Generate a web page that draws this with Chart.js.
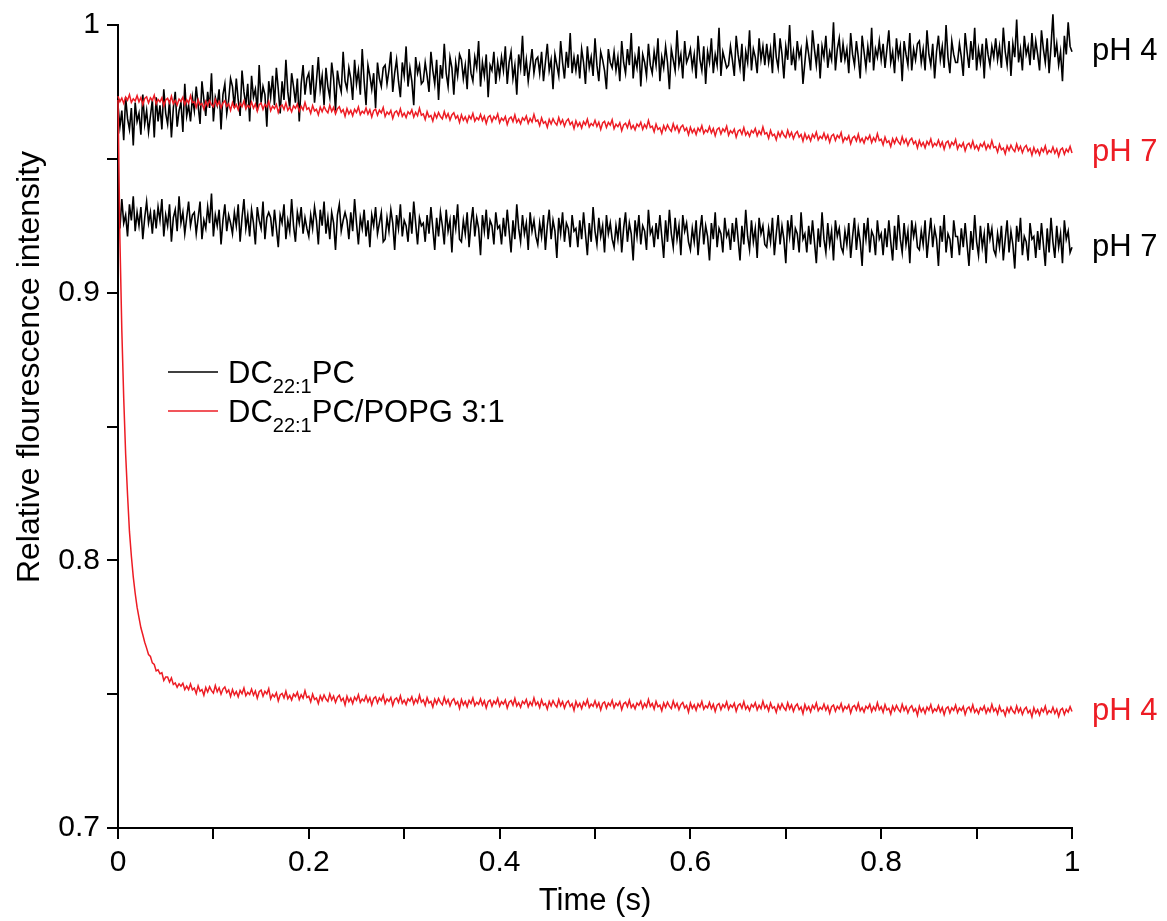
<!DOCTYPE html>
<html><head><meta charset="utf-8">
<script src="https://cdn.jsdelivr.net/npm/chart.js@4.4.1/dist/chart.umd.min.js"></script>
<style>html,body{margin:0;padding:0;background:#fff;}canvas{display:block;}</style>
</head><body>
<canvas id="c" width="1167" height="921"></canvas>
<script>
// ---- data ----
const SAMPLE_INTERVAL = 0.002; // s between plotted samples
const xTickValues = [0, 0.2, 0.4, 0.6, 0.8, 1];
const xTickLabels = ['0', '0.2', '0.4', '0.6', '0.8', '1'];
const yTickValues = [0.7, 0.8, 0.9, 1];
const yTickLabels = ['0.7', '0.8', '0.9', '1'];
const xTitle = 'Time (s)';
const yTitle = 'Relative flourescence intensity';
const legendNames = [
  [['DC', false], ['22:1', true], ['PC', false]],
  [['DC', false], ['22:1', true], ['PC/POPG 3:1', false]]
];
const endLabels = ['pH 4', 'pH 7', 'pH 7', 'pH 4'];

// DC22:1PC, pH 4 (black, top)
const b4 = [
.970,.962,.968,.957,.973,.965,.961,.969,.955,.971,.964,.967,.959,.974,.963,.968,.960,.966,.972,.958,
.973,.964,.970,.961,.976,.967,.963,.972,.958,.969,.975,.962,.968,.971,.960,.978,.966,.970,.964,.973,
.968,.977,.970,.963,.979,.972,.966,.975,.969,.982,.964,.973,.970,.976,.961,.974,.978,.967,.972,.980,
.977,.969,.980,.972,.966,.983,.975,.970,.978,.964,.981,.973,.976,.968,.985,.971,.977,.974,.962,.979,
.973,.981,.970,.984,.976,.967,.979,.972,.987,.975,.969,.982,.977,.971,.980,.964,.978,.985,.974,.980,
.982,.974,.985,.971,.979,.988,.976,.981,.970,.984,.977,.973,.986,.980,.968,.983,.978,.975,.990,.979,
.976,.984,.980,.972,.987,.978,.983,.974,.991,.979,.970,.985,.981,.976,.982,.969,.986,.980,.977,.984,
.985,.978,.983,.990,.975,.982,.987,.979,.973,.986,.981,.992,.977,.984,.979,.970,.988,.982,.985,.978,
.979,.986,.981,.975,.990,.983,.978,.987,.972,.985,.980,.993,.982,.977,.988,.984,.974,.986,.981,.989,
.987,.980,.985,.976,.991,.982,.979,.988,.984,.994,.977,.986,.981,.989,.973,.985,.983,.990,.978,.986,
.981,.988,.983,.992,.978,.986,.990,.980,.985,.974,.989,.984,.996,.981,.987,.979,.985,.991,.982,.987,
.988,.982,.990,.979,.986,.993,.983,.987,.976,.989,.985,.981,.994,.986,.980,.990,.984,.997,.982,.988,
.983,.989,.980,.991,.986,.978,.992,.984,.988,.981,.995,.985,.979,.990,.987,.983,.976,.991,.986,.984,
.990,.983,.988,.979,.994,.986,.982,.991,.985,.997,.980,.988,.984,.992,.977,.989,.986,.981,.993,.985,
.982,.990,.985,.995,.979,.988,.984,.992,.986,.976,.991,.987,.983,.998,.985,.989,.980,.994,.986,.988,
.991,.984,.989,.980,.996,.987,.983,.992,.978,.990,.986,.995,.982,.989,.985,.999,.981,.990,.987,.984,
.985,.992,.987,.981,.996,.989,.984,.993,.979,.990,.986,.998,.983,.991,.988,.982,.995,.987,.992,.985,
.993,.986,.991,.982,.997,.988,.984,.995,.989,.980,.992,.987,1.000,.985,.990,.983,.994,.988,.991,.978,
.986,.994,.989,.983,.998,.991,.985,.993,.980,.992,.988,.996,.984,.990,.987,1.001,.983,.991,.995,.986,
.993,.987,.991,.982,.997,.989,.985,.994,.988,.980,.996,.990,.984,.992,.986,.999,.983,.991,.988,.994,
.987,.993,.984,.991,.998,.986,.990,.982,.995,.988,.992,.979,.994,.989,.985,.997,.983,.991,.987,.993,
.994,.986,.991,.983,.998,.989,.985,.993,.980,.990,.996,.987,.992,.984,1.000,.988,.982,.994,.989,.986,
.986,.993,.988,.981,.997,.990,.984,.994,.987,.999,.983,.991,.986,.993,.980,.995,.989,.985,.992,.988,
.995,.987,.992,.984,.999,.990,.985,.994,.981,.993,.988,1.002,.986,.991,.983,.996,.989,.992,.985,.997,
.987,.994,.989,.983,.998,.991,.986,.995,.982,.992,1.004,.988,.993,.985,.990,.979,.996,.989,1.001,.992,
.990];

// DC22:1PC/POPG 3:1, pH 7 (red, upper)
const r7 = [
.9734,.9714,.9727,.9707,.9731,.9719,.9740,.9711,.9724,.9716,.9736,.9713,.9729,.9702,.9726,.9732,.9709,.9728,.9718,.9738,
.9705,.9722,.9713,.9728,.9698,.9720,.9726,.9709,.9734,.9706,.9718,.9701,.9723,.9714,.9730,.9703,.9721,.9708,.9736,.9710,
.9713,.9692,.9721,.9701,.9707,.9686,.9715,.9698,.9718,.9703,.9694,.9722,.9699,.9714,.9690,.9709,.9717,.9696,.9706,.9681,
.9710,.9690,.9703,.9683,.9707,.9695,.9716,.9687,.9700,.9692,.9712,.9689,.9705,.9678,.9702,.9708,.9685,.9704,.9694,.9714,
.9680,.9697,.9688,.9703,.9673,.9695,.9701,.9684,.9709,.9681,.9693,.9676,.9698,.9689,.9705,.9678,.9696,.9683,.9711,.9685,
.9691,.9670,.9699,.9679,.9685,.9664,.9693,.9676,.9696,.9681,.9672,.9700,.9677,.9692,.9668,.9687,.9695,.9674,.9684,.9659,
.9688,.9668,.9681,.9661,.9685,.9673,.9694,.9665,.9678,.9670,.9690,.9667,.9683,.9656,.9680,.9686,.9663,.9682,.9672,.9692,
.9658,.9675,.9666,.9681,.9651,.9673,.9679,.9662,.9687,.9659,.9671,.9654,.9676,.9667,.9683,.9656,.9674,.9661,.9689,.9663,
.9668,.9647,.9676,.9656,.9662,.9641,.9670,.9653,.9673,.9658,.9649,.9677,.9654,.9669,.9645,.9664,.9672,.9651,.9661,.9636,
.9664,.9644,.9657,.9637,.9661,.9649,.9670,.9641,.9654,.9646,.9666,.9643,.9659,.9632,.9656,.9662,.9639,.9658,.9648,.9668,
.9635,.9652,.9643,.9658,.9628,.9650,.9656,.9639,.9664,.9636,.9648,.9631,.9653,.9644,.9660,.9633,.9651,.9638,.9666,.9640,
.9645,.9624,.9653,.9633,.9639,.9618,.9647,.9630,.9650,.9635,.9626,.9654,.9631,.9646,.9622,.9641,.9649,.9628,.9638,.9613,
.9642,.9622,.9635,.9615,.9639,.9627,.9648,.9619,.9632,.9624,.9644,.9621,.9637,.9610,.9634,.9640,.9617,.9636,.9626,.9646,
.9612,.9629,.9620,.9635,.9605,.9627,.9633,.9616,.9641,.9613,.9625,.9608,.9630,.9621,.9637,.9610,.9628,.9615,.9643,.9617,
.9622,.9601,.9630,.9610,.9616,.9595,.9624,.9607,.9627,.9612,.9603,.9631,.9608,.9623,.9599,.9618,.9626,.9605,.9615,.9590,
.9618,.9598,.9611,.9591,.9615,.9603,.9624,.9595,.9608,.9600,.9620,.9597,.9613,.9586,.9610,.9616,.9593,.9612,.9602,.9622,
.9588,.9605,.9596,.9611,.9581,.9603,.9609,.9592,.9617,.9589,.9601,.9584,.9606,.9597,.9613,.9586,.9604,.9591,.9619,.9593,
.9598,.9577,.9606,.9586,.9592,.9571,.9600,.9583,.9603,.9588,.9579,.9607,.9584,.9599,.9575,.9594,.9602,.9581,.9591,.9566,
.9594,.9574,.9587,.9567,.9591,.9579,.9600,.9571,.9584,.9576,.9596,.9573,.9589,.9562,.9586,.9592,.9569,.9588,.9578,.9598,
.9563,.9580,.9571,.9586,.9556,.9578,.9584,.9567,.9592,.9564,.9576,.9559,.9581,.9572,.9588,.9561,.9579,.9566,.9594,.9568,
.9573,.9552,.9581,.9561,.9567,.9546,.9575,.9558,.9578,.9563,.9554,.9582,.9559,.9574,.9550,.9569,.9577,.9556,.9566,.9541,
.9568,.9548,.9561,.9541,.9565,.9553,.9574,.9545,.9558,.9550,.9570,.9547,.9563,.9536,.9560,.9566,.9543,.9562,.9552,.9572,
.9537,.9554,.9545,.9560,.9530,.9552,.9558,.9541,.9566,.9538,.9550,.9533,.9555,.9546,.9562,.9535,.9553,.9540,.9568,.9542,
.9546,.9525,.9554,.9534,.9540,.9519,.9548,.9531,.9551,.9536,.9527,.9555,.9532,.9547,.9523,.9542,.9550,.9529,.9539,.9514,
.9542,.9522,.9535,.9515,.9539,.9527,.9548,.9519,.9532,.9524,.9544,.9521,.9537,.9510,.9534,.9540,.9517,.9536,.9526,.9546,
.9522];

// DC22:1PC, pH 7 (black, middle)
const b7 = [
.931,.924,.935,.926,.929,.921,.933,.927,.936,.923,.930,.925,.932,.920,.928,.934,.926,.930,.922,.931,
.924,.932,.927,.935,.921,.929,.925,.933,.919,.928,.931,.923,.936,.926,.930,.922,.928,.934,.925,.929,
.930,.922,.928,.934,.920,.927,.924,.932,.926,.937,.921,.929,.925,.931,.918,.927,.933,.923,.929,.926,
.922,.930,.925,.933,.919,.928,.935,.924,.929,.921,.931,.926,.918,.932,.927,.924,.934,.920,.928,.930,
.928,.921,.931,.924,.917,.929,.926,.933,.920,.927,.923,.935,.925,.919,.930,.926,.932,.922,.928,.924,
.921,.929,.924,.932,.927,.918,.931,.925,.934,.922,.928,.920,.930,.926,.916,.929,.933,.923,.927,.930,
.927,.920,.930,.923,.935,.926,.918,.928,.924,.931,.921,.927,.917,.929,.925,.932,.922,.926,.930,.919,
.920,.928,.923,.931,.926,.916,.929,.924,.933,.921,.927,.925,.919,.930,.922,.934,.926,.918,.928,.925,
.926,.919,.929,.922,.932,.924,.916,.928,.921,.930,.925,.918,.931,.923,.927,.915,.929,.924,.933,.920,
.919,.927,.922,.930,.917,.926,.932,.921,.928,.924,.914,.929,.923,.931,.920,.927,.925,.918,.930,.924,
.925,.918,.928,.921,.931,.923,.915,.927,.920,.933,.924,.919,.929,.922,.926,.916,.930,.923,.927,.921,
.918,.926,.921,.929,.916,.925,.931,.920,.927,.923,.913,.928,.922,.930,.919,.926,.924,.917,.929,.923,
.924,.917,.927,.920,.930,.922,.914,.926,.919,.932,.923,.918,.928,.921,.925,.915,.929,.922,.926,.920,
.917,.925,.920,.928,.915,.924,.930,.919,.926,.922,.912,.927,.921,.929,.918,.925,.923,.916,.931,.922,
.924,.917,.926,.920,.929,.921,.913,.927,.919,.931,.922,.917,.928,.920,.925,.914,.929,.923,.926,.919,
.916,.924,.919,.927,.914,.923,.929,.918,.925,.921,.912,.926,.920,.930,.917,.924,.922,.915,.928,.921,
.923,.916,.926,.919,.928,.920,.912,.925,.918,.931,.921,.916,.927,.919,.924,.913,.928,.922,.925,.918,
.917,.924,.919,.928,.914,.922,.929,.918,.925,.920,.911,.927,.921,.929,.916,.924,.922,.915,.930,.920,
.922,.915,.925,.918,.927,.919,.911,.924,.917,.930,.920,.915,.926,.918,.923,.912,.927,.921,.924,.917,
.915,.923,.918,.926,.913,.921,.928,.916,.924,.919,.910,.926,.920,.928,.915,.923,.921,.914,.927,.920,
.922,.914,.924,.917,.927,.919,.912,.925,.916,.929,.920,.915,.926,.918,.923,.911,.927,.921,.925,.917,
.916,.923,.918,.927,.913,.921,.928,.917,.924,.920,.910,.925,.919,.929,.915,.922,.920,.913,.927,.921,
.921,.914,.924,.917,.926,.918,.910,.923,.916,.929,.919,.914,.925,.917,.922,.911,.926,.920,.924,.916,
.914,.922,.917,.925,.912,.920,.927,.915,.923,.918,.909,.925,.919,.928,.914,.921,.919,.912,.926,.920,
.921,.913,.923,.916,.926,.918,.910,.924,.915,.928,.919,.913,.925,.917,.922,.911,.927,.920,.923,.915,
.917];

// DC22:1PC/POPG 3:1, pH 4 (red, bottom)
const r4 = [
.9720,.9200,.8860,.8605,.8398,.8245,.8108,.8016,.7938,.7877,.7825,.7786,.7748,.7722,.7694,.7672,.7648,.7641,.7617,.7611,
.7587,.7591,.7576,.7580,.7551,.7564,.7564,.7545,.7561,.7536,.7542,.7526,.7539,.7530,.7541,.7517,.7530,.7517,.7538,.7516,
.7523,.7502,.7531,.7511,.7517,.7496,.7525,.7508,.7528,.7513,.7504,.7532,.7509,.7524,.7500,.7519,.7527,.7506,.7516,.7491,
.7517,.7497,.7510,.7490,.7514,.7502,.7523,.7494,.7507,.7499,.7519,.7496,.7512,.7485,.7509,.7515,.7492,.7511,.7501,.7521,
.7482,.7499,.7490,.7505,.7475,.7497,.7503,.7486,.7511,.7483,.7495,.7478,.7500,.7491,.7507,.7480,.7498,.7485,.7513,.7487,
.7492,.7471,.7500,.7480,.7486,.7465,.7494,.7477,.7497,.7482,.7473,.7501,.7478,.7493,.7469,.7488,.7496,.7475,.7485,.7460,
.7492,.7472,.7485,.7465,.7489,.7477,.7498,.7469,.7482,.7474,.7494,.7471,.7487,.7460,.7484,.7490,.7467,.7486,.7476,.7496,
.7465,.7482,.7473,.7488,.7458,.7480,.7486,.7469,.7494,.7466,.7478,.7461,.7483,.7474,.7490,.7463,.7481,.7468,.7496,.7470,
.7479,.7458,.7487,.7467,.7473,.7452,.7481,.7464,.7484,.7469,.7460,.7488,.7465,.7480,.7456,.7475,.7483,.7462,.7472,.7447,
.7480,.7460,.7473,.7453,.7477,.7465,.7486,.7457,.7470,.7462,.7482,.7459,.7475,.7448,.7472,.7478,.7455,.7474,.7464,.7484,
.7455,.7472,.7463,.7478,.7448,.7470,.7476,.7459,.7484,.7456,.7468,.7451,.7473,.7464,.7480,.7453,.7471,.7458,.7486,.7460,
.7471,.7450,.7479,.7459,.7465,.7444,.7473,.7456,.7476,.7461,.7452,.7480,.7457,.7472,.7448,.7467,.7475,.7454,.7464,.7439,
.7473,.7453,.7466,.7446,.7470,.7458,.7479,.7450,.7463,.7455,.7475,.7452,.7468,.7441,.7465,.7471,.7448,.7467,.7457,.7477,
.7449,.7466,.7457,.7472,.7442,.7464,.7470,.7453,.7478,.7450,.7462,.7445,.7467,.7458,.7474,.7447,.7465,.7452,.7480,.7454,
.7465,.7444,.7473,.7453,.7459,.7438,.7467,.7450,.7470,.7455,.7446,.7474,.7451,.7466,.7442,.7461,.7469,.7448,.7458,.7433,
.7467,.7447,.7460,.7440,.7464,.7452,.7473,.7444,.7457,.7449,.7469,.7446,.7462,.7435,.7459,.7465,.7442,.7461,.7451,.7471,
.7443,.7460,.7451,.7466,.7436,.7458,.7464,.7447,.7472,.7444,.7456,.7439,.7461,.7452,.7468,.7441,.7459,.7446,.7474,.7448,
.7459,.7438,.7467,.7447,.7453,.7432,.7461,.7444,.7464,.7449,.7440,.7468,.7445,.7460,.7436,.7455,.7463,.7442,.7452,.7427,
.7461,.7441,.7454,.7434,.7458,.7446,.7467,.7438,.7451,.7443,.7463,.7440,.7456,.7429,.7453,.7459,.7436,.7455,.7445,.7465,
.7437,.7454,.7445,.7460,.7430,.7452,.7458,.7441,.7466,.7438,.7450,.7433,.7455,.7446,.7462,.7435,.7453,.7440,.7468,.7442,
.7453,.7432,.7461,.7441,.7447,.7426,.7455,.7438,.7458,.7443,.7434,.7462,.7439,.7454,.7430,.7449,.7457,.7436,.7446,.7421,
.7455,.7435,.7448,.7428,.7452,.7440,.7461,.7432,.7445,.7437,.7457,.7434,.7450,.7423,.7447,.7453,.7430,.7449,.7439,.7459,
.7431,.7448,.7439,.7454,.7424,.7446,.7452,.7435,.7460,.7432,.7444,.7427,.7449,.7440,.7456,.7429,.7447,.7434,.7462,.7436,
.7447,.7426,.7455,.7435,.7441,.7420,.7449,.7432,.7452,.7437,.7428,.7456,.7433,.7448,.7424,.7443,.7451,.7430,.7440,.7415,
.7449,.7429,.7442,.7422,.7446,.7434,.7455,.7426,.7439,.7431,.7451,.7428,.7444,.7417,.7441,.7447,.7424,.7443,.7433,.7453,
.7435];

// ---- rendering ----
const RED = '#ed1c24';
const BLACK = '#000000';
const FONT = '"Liberation Sans", Arial, Helvetica, sans-serif';
Chart.defaults.font.family = FONT;
Chart.defaults.color = BLACK;

const toXY = arr => arr.map((v, i) => ({x: Math.round(i * SAMPLE_INTERVAL * 1000) / 1000, y: v}));
const pick = (v, vals, labels) => {
  const k = vals.findIndex(t => Math.abs(t - v) < 1e-6);
  return k >= 0 ? labels[k] : '';
};

const lineDs = (data, color, w) => ({
  data: toXY(data), borderColor: color, backgroundColor: color,
  borderWidth: w, pointRadius: 0, tension: 0, fill: false, clip: false
});

// series order for end labels: b4, r7, b7, r4
const labelSeries = [[b4, BLACK], [r7, RED], [b7, BLACK], [r4, RED]];

const extras = {
  id: 'extras',
  afterDraw(chart) {
    const {ctx, chartArea, scales} = chart;
    ctx.save();
    // y-axis title
    ctx.fillStyle = BLACK;
    ctx.font = '32px ' + FONT;
    ctx.textAlign = 'center';
    ctx.textBaseline = 'middle';
    ctx.translate(30, 367);
    ctx.rotate(-Math.PI / 2);
    ctx.fillText(yTitle, 0, 0);
    ctx.restore();

    // legend
    ctx.save();
    const lx0 = chartArea.left + 50, lx1 = chartArea.left + 100;
    const rowY = [372, 411];
    const colors = [BLACK, RED];
    legendNames.forEach((parts, r) => {
      ctx.strokeStyle = colors[r];
      ctx.lineWidth = 1.6;
      ctx.beginPath();
      ctx.moveTo(lx0, rowY[r]); ctx.lineTo(lx1, rowY[r]);
      ctx.stroke();
      let x = lx1 + 10;
      const base = rowY[r] + 11;
      ctx.fillStyle = BLACK;
      ctx.textAlign = 'left';
      ctx.textBaseline = 'alphabetic';
      parts.forEach(([t, sub]) => {
        ctx.font = (sub ? '20px ' : '31px ') + FONT;
        ctx.fillText(t, x, sub ? base + 10 : base);
        x += ctx.measureText(t).width;
      });
    });
    ctx.restore();

    // end labels
    ctx.save();
    ctx.font = '31px ' + FONT;
    ctx.textAlign = 'left';
    ctx.textBaseline = 'middle';
    labelSeries.forEach(([arr, color], i) => {
      ctx.fillStyle = color;
      const y = scales.y.getPixelForValue(arr[arr.length - 1]);
      ctx.fillText(endLabels[i], chartArea.right + 20, y);
    });
    ctx.restore();
  }
};

new Chart(document.getElementById('c'), {
  type: 'line',
  data: {
    datasets: [
      lineDs(r7, RED, 1.5),
      lineDs(r4, RED, 1.5),
      lineDs(b4, BLACK, 1.6),
      lineDs(b7, BLACK, 1.6)
    ]
  },
  options: {
    responsive: false,
    animation: false,
    events: [],
    layout: {padding: {left: 0, top: 25, right: 95, bottom: 0}},
    plugins: {legend: {display: false}, tooltip: {enabled: false}},
    scales: {
      x: {
        type: 'linear', min: 0, max: 1, position: 'bottom',
        ticks: {stepSize: 0.1, autoSkip: false, maxRotation: 0, padding: 6,
          color: BLACK, font: {size: 30},
          callback: v => pick(v, xTickValues, xTickLabels)},
        grid: {display: true, drawOnChartArea: false, drawTicks: true,
          tickLength: 11, tickWidth: 2, color: BLACK, lineWidth: 2},
        border: {display: true, color: BLACK, width: 2},
        title: {display: true, text: xTitle, color: BLACK, font: {size: 31},
          padding: {top: 0, bottom: 1}},
        afterFit: s => { s.height = 93; }
      },
      y: {
        type: 'linear', min: 0.7, max: 1, position: 'left',
        ticks: {stepSize: 0.05, autoSkip: false, padding: 7,
          color: BLACK, font: {size: 30},
          callback: v => pick(v, yTickValues, yTickLabels)},
        grid: {display: true, drawOnChartArea: false, drawTicks: true,
          tickLength: 11, tickWidth: 2, color: BLACK, lineWidth: 2},
        border: {display: true, color: BLACK, width: 2},
        afterFit: s => { s.width = 118; }
      }
    }
  },
  plugins: [extras]
});
</script>
</body></html>
